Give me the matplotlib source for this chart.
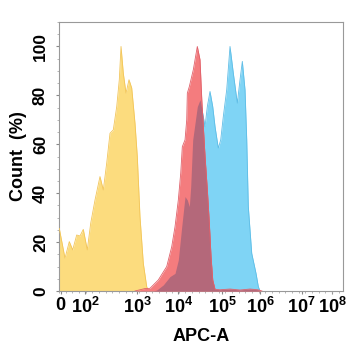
import numpy as np
import matplotlib
matplotlib.use("Agg")
import matplotlib.pyplot as plt
from matplotlib.ticker import FixedLocator, MultipleLocator

# ---- data (x in display channels 0..1024, y in % of max count) ----
yellow_x = [1, 21.6, 37.1, 49.4, 63.8, 75.7, 87.6, 102, 114.3, 129.8, 147.8, 159.7,
            172, 183.9, 195.8, 208.1, 217.4, 223.6, 231.9, 241.6, 252.4, 262.2, 274,
            282.3, 292, 304, 316.2, 322]
yellow_y = [25.6, 13.4, 20.2, 16.8, 22.9, 22.5, 25.2, 16.8, 27.7, 37.2, 46.8, 41.3,
            52.3, 64.5, 65.9, 75.4, 86.4, 100, 89, 80.9, 86.4, 83, 68.6,
            55, 30.4, 11.3, 1.8, 0]

red_x = [274, 292, 310, 328.1, 358, 388.4, 406.4, 418.3, 430.2, 438.9, 444.6, 454.4,
         460.5, 462.7, 469.9, 484.3, 498.7, 508.4, 514.6, 520.3, 526.5, 534.8, 542,
         548.1, 554.3, 562.6, 580.6, 616.7, 652.7, 688.8, 717.6, 732]
red_y = [0, 0.5, 1.0, 1.1, 4.5, 10, 18.1, 26.3, 37.2, 48.2, 59, 61.8,
         70, 80.9, 83.6, 90.5, 100, 94.6, 78.9, 67.2, 55, 41.3, 27.7,
         14, 4.5, 0.7, 0.5, 0.8, 0.4, 0.8, 0.5, 0]

blue_x = [340, 352.3, 376.1, 400.2, 418.3, 430.2, 442.5, 454.4, 462.7, 469.9, 474.9,
          482.1, 490.4, 498.7, 508.4, 518.2, 526.5, 534.8, 544.5, 554.3, 562.6, 574.4,
          583.1, 592.5, 604.7, 616.6, 628.6, 643, 652.7, 661, 670.7, 676.9, 682.6,
          694.9, 710.4, 718.7, 724.8]
blue_y = [0, 0.4, 2.5, 5.9, 7.2, 12.7, 26.3, 38.6, 37.2, 34.5, 42.7,
          61.8, 68.6, 75.4, 78.2, 72.7, 67.2, 75.4, 81.6, 75.4, 67.2, 58.4,
          61.8, 71.4, 82.3, 100, 89, 76.8, 86.4, 93.9, 82.3, 61.8, 34.5,
          15.4, 7.2, 1.8, 0]

tick_pos = [6, 95, 283, 430, 589, 725, 875, 986]
tick_labels = ["0", r"$\mathbf{10^{2}}$", r"$\mathbf{10^{3}}$", r"$\mathbf{10^{4}}$",
               r"$\mathbf{10^{5}}$", r"$\mathbf{10^{6}}$", r"$\mathbf{10^{7}}$",
               r"$\mathbf{10^{8}}$"]
ytick_vals = [0, 20, 40, 60, 80, 100]

# ---- style ----
plt.rcParams["font.family"] = ["Liberation Sans", "DejaVu Sans"]
plt.rcParams["mathtext.fontset"] = "custom"
plt.rcParams["mathtext.bf"] = "Liberation Sans:bold"
plt.rcParams["mathtext.rm"] = "Liberation Sans:bold"

c_yellow = "#FCDC7E"
c_red = "#F47C7E"
c_blue = "#7FD4F5"
c_mauve = "#B4687A"

fig = plt.figure(figsize=(3.48, 3.5), dpi=100)
ax = fig.add_axes([59 / 348, 59 / 350, 284 / 348, 269 / 350])

ax.fill_between(yellow_x, yellow_y, color=c_yellow, lw=0, zorder=2)
ax.plot(yellow_x, yellow_y, color="#F2C55A", lw=0.6, zorder=3)

ax.fill_between(blue_x, blue_y, color=c_blue, lw=0, zorder=2)
ax.plot(blue_x, blue_y, color="#5FBDE6", lw=0.6, zorder=3)

ax.fill_between(red_x, red_y, color=c_red, lw=0, zorder=4)

grid = np.union1d(red_x, blue_x)
overlap = np.minimum(np.interp(grid, red_x, red_y, left=0, right=0),
                     np.interp(grid, blue_x, blue_y, left=0, right=0))
ax.fill_between(grid, overlap, color=c_mauve, lw=0, zorder=5)
ax.plot(red_x, red_y, color="#E0606A", lw=0.6, zorder=6)

ax.set_xlim(0, 1024)
ax.set_ylim(0, 110)

ax.xaxis.set_major_locator(FixedLocator(tick_pos))
ax.set_xticklabels(tick_labels)
ax.xaxis.set_minor_locator(MultipleLocator(24))
ax.yaxis.set_major_locator(FixedLocator(ytick_vals))
ax.yaxis.set_minor_locator(MultipleLocator(5))

for lab in ax.get_xticklabels():
    lab.set_fontweight("bold")
ax.tick_params(axis="x", which="major", length=2, pad=2, labelsize=13, color="#888888")
ax.tick_params(axis="y", which="major", length=2, pad=6, labelsize=12.5, color="#888888")
ax.tick_params(which="minor", length=1.5, color="#AAAAAA")
for lab in ax.get_yticklabels():
    lab.set_fontweight("bold")
    lab.set_rotation(90)
    lab.set_va("center")

for s in ax.spines.values():
    s.set_color("#999999")
    s.set_linewidth(0.8)

ax.set_xlabel("APC-A", fontsize=13, fontweight="bold", labelpad=8)
ax.set_ylabel("Count  (%)", fontsize=13, fontweight="bold", labelpad=4)

fig.savefig("out.png", dpi=100)
